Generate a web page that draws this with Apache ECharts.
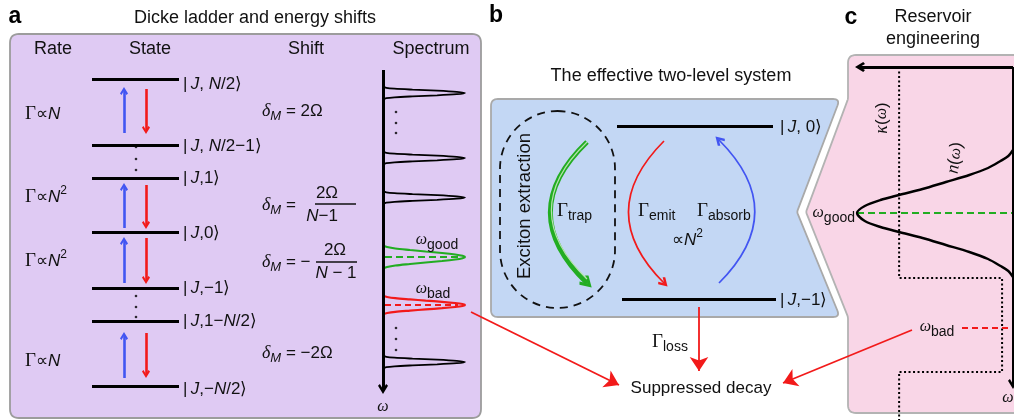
<!DOCTYPE html>
<html><head><meta charset="utf-8"><title>Dicke ladder, effective two-level system, reservoir engineering</title>
<script src="https://cdn.jsdelivr.net/npm/echarts@6.0.0/dist/echarts.min.js"></script>
<style>html,body{margin:0;padding:0;background:#ffffff;}#chart{width:1014px;height:420px;}</style>
</head><body><div id="chart"></div><script>
// ================= DATA (figure units = px) =================
// Panel a – Dicke ladder
const columnHeaders = ['Rate', 'State', 'Shift', 'Spectrum'];
const headerX = [53, 150, 306, 431];
const levelLabels = [
  '{n||\u2009}{i|J}{n|, }{i|N}{n|/2⟩}',
  '{n||\u2009}{i|J}{n|, }{i|N}{n|/2−1⟩}',
  '{n||\u2009}{i|J}{n|,1⟩}',
  '{n||\u2009}{i|J}{n|,0⟩}',
  '{n||\u2009}{i|J}{n|,−1⟩}',
  '{n||\u2009}{i|J}{n|,1−}{i|N}{n|/2⟩}',
  '{n||\u2009}{i|J}{n|,−}{i|N}{n|/2⟩}'
];
const levelY = [79, 145, 178, 232.5, 288, 321, 386];
const levelLabelY = [84, 146, 178.5, 233.5, 288.5, 321.5, 389];
const ladderSpan = [92, 179];
const rateLabels = ['{g|Γ}{n|∝}{i|N}', '{g|Γ}{n|∝}{i|N}{sp|2}', '{g|Γ}{n|∝}{i|N}{sp|2}', '{g|Γ}{n|∝}{i|N}'];
const rateY = [114, 197, 261, 361];
const absorbArrowsY = [[133, 91], [228, 187], [283, 241], [378, 336]];   // blue, upward
const emitArrowsY = [[89, 130], [185, 225], [238, 280], [333, 374]];     // red, downward
const ladderDotsY = [147, 159, 170, 296, 307, 317];
const shiftLabels = ['{w|δ}{sbi|M}{n| = 2Ω}', '{w|δ}{sbi|M}{n| =}', '{w|δ}{sbi|M}{n| = −}', '{w|δ}{sbi|M}{n| = −2Ω}'];
const shiftY = [111, 205, 262, 353];
const fractionNumerators = ['{n|2Ω}', '{n|2Ω}'];
const fractionDenominators = ['{i|N}{n|−1}', '{i|N}{n| − 1}'];
const fractionNumPos = [[327, 193], [335, 250]];
const fractionDenPos = [[322, 216], [336, 273]];
const fractionBars = [[315, 356, 204], [316, 357, 262]];
// spectrum: peak frequency position, relative linewidth, profile kind
const spectrumPeakY = [93, 158, 197.5, 257, 305, 362];
const spectrumPeakWidth = [1, 1, 1, 1, 0.8, 1];
const spectrumPeakKind = ['narrow', 'narrow', 'narrow', 'good', 'bad', 'narrow'];
// peak shape: [offset along ω, relative intensity]
const narrowProfile = [[-6.5,0],[-5.2,0.04],[-4.3,0.14],[-3.4,0.36],[-2.4,0.66],[-1.2,0.9],[0,1],[1.2,0.9],[2.4,0.66],[3.4,0.36],[4.3,0.14],[5.2,0.04],[6.5,0]];
const broadProfile = [[-11.5,0],[-10,0.05],[-8.5,0.15],[-7,0.33],[-5.5,0.52],[-4,0.72],[-2.5,0.88],[-1.2,0.97],[0,1],[1.2,0.97],[2.5,0.88],[4,0.72],[5.5,0.52],[7,0.33],[8.5,0.15],[10,0.05],[11.5,0]];
const spectrumDotsY = [112, 123, 133, 328, 339, 350];
const omegaGoodY = 257, omegaBadY = 305;

// Panel b – effective two-level system
const twoLevelLabels = ['{n||\u2009}{i|J}{n|, 0⟩}', '{n||\u2009}{i|J}{n|,−1⟩}'];
const twoLevelLines = [[617, 773, 126], [622, 776, 299]];
const rateCurves = { trap: [[587, 283], [587, 142]], emit: [[664, 283], [664, 141]], absorb: [[719, 140], [719, 283]] };

// Panel c – reservoir engineering (n(ω) and κ(ω) in relative units, ω along the figure)
const nOmega = [[0,150],[0.03,156],[0.08,161],[0.16,168],[0.28,175],[0.43,182],[0.58,189],[0.73,195],[0.85,200],[0.95,206],[1,213],[0.95,221],[0.85,227],[0.73,232],[0.58,238],[0.43,245],[0.28,252],[0.16,259],[0.08,266],[0.03,271],[0,277]];
const kappaOmega = [[0.73,67],[0.73,278],[0.07,278],[0.07,372],[0.73,372],[0.73,420]];
const omegaGoodC = 213, omegaBadC = 328;

// ================= STYLE / LAYOUT =================
const FS = '"Liberation Sans", Arial, Helvetica, sans-serif';
const FR = '"Liberation Serif", "DejaVu Serif", "Times New Roman", serif';
const INK = '#111111', RED = '#f21a1a', BLUE = '#4255f2', GREEN = '#22ad22';
const rich = {
  n:   {fontFamily: FS, fontSize: 17, lineHeight: 24, fill: INK},
  nl:  {fontFamily: FS, fontSize: 18.5, lineHeight: 24, fill: INK},
  i:   {fontFamily: FS, fontSize: 17, fontStyle: 'italic', lineHeight: 24, fill: INK},
  g:   {fontFamily: FR, fontSize: 19, lineHeight: 24, fill: INK},
  w:   {fontFamily: FR, fontSize: 18, fontStyle: 'italic', lineHeight: 24, fill: INK},
  ws:  {fontFamily: FR, fontSize: 16, fontStyle: 'italic', lineHeight: 24, fill: INK},
  sb:  {fontFamily: FS, fontSize: 14, lineHeight: 14, verticalAlign: 'bottom', fill: INK},
  sbi: {fontFamily: FS, fontSize: 13, fontStyle: 'italic', lineHeight: 14, verticalAlign: 'bottom', fill: INK},
  sp:  {fontFamily: FS, fontSize: 12, lineHeight: 12, verticalAlign: 'top', fill: INK},
  t:   {fontFamily: FS, fontSize: 18, lineHeight: 24, fill: INK},
  pl:  {fontFamily: FS, fontSize: 23, fontWeight: 'bold', lineHeight: 26, fill: '#000'}
};
const chevron = 'path://M5,0 L10,6.6 L8.1,8 L5,3.8 L1.9,8 L0,6.6 Z';

const texts = [];
function T(s, x, y, a, rot) { texts.push({s: s, x: x, y: y, a: a || 'left', rot: rot || 0}); }
T('{pl|a}', 15, 17, 'center'); T('{pl|b}', 496, 16, 'center'); T('{pl|c}', 851, 18, 'center');
T('{t|Dicke ladder and energy shifts}', 255, 18, 'center');
T('{t|The effective two-level system}', 671, 76, 'center');
T('{t|Reservoir}', 933, 17, 'center'); T('{t|engineering}', 933, 39, 'center');
columnHeaders.forEach((h, k) => T('{t|' + h + '}', headerX[k], 49, 'center'));
levelLabels.forEach((s, k) => T(s, 183, levelLabelY[k]));
rateLabels.forEach((s, k) => T(s, 25, rateY[k]));
shiftLabels.forEach((s, k) => T(s, 262, shiftY[k]));
fractionNumerators.forEach((s, k) => T(s, fractionNumPos[k][0], fractionNumPos[k][1], 'center'));
fractionDenominators.forEach((s, k) => T(s, fractionDenPos[k][0], fractionDenPos[k][1], 'center'));
T('{ws|ω}{sb|good}', 437, 240, 'center');
T('{ws|ω}{sb|bad}', 433, 289, 'center');
T('{ws|ω}', 383, 407, 'center');
// panel b
T('{nl|Exciton extraction}', 525, 206, 'center', 90);
T('{g|Γ}{sb|trap}', 557, 211);
T('{g|Γ}{sb|emit}', 638, 211);
T('{g|Γ}{sb|absorb}', 697, 211);
T('{n|∝}{i|N}{sp|2}', 672, 240);
T('{g|Γ}{sb|loss}', 652, 342);
T('{n|Suppressed decay}', 701, 388, 'center');
twoLevelLabels.forEach((s, k) => T(s, 780, twoLevelLines[k][2] + 1));
// panel c
T('{w|κ}{n|(}{ws|ω}{n|)}', 882, 118, 'center', 90);
T('{w|n}{n|(}{ws|ω}{n|)}', 955, 158, 'center', 82);
T('{ws|ω}{sb|good}', 855, 213, 'right');
T('{ws|ω}{sb|bad}', 937, 327, 'center');
T('{ws|ω}', 1008, 398, 'center');

// background boxes (vertices, corner radii)
const boxes = [
  {pts: [[10,34],[481,34],[481,418],[10,418]], r: [9,9,9,9], fill: '#dfcaf3', stroke: '#9c9c9c'},
  {pts: [[491,99],[840,99],[797,212],[840,317],[491,317]], r: [7,7,2,7,7], fill: '#c3d7f4', stroke: '#a9a9a9'},
  {pts: [[848,55],[1040,55],[1040,413],[848,413],[848,317],[806,212],[848,99]], r: [8,0,0,8,2,2,2], fill: '#f9d6e7', stroke: '#b3b3b3'}
];
function roundPts(pts, r) {
  const out = [], n = pts.length;
  for (let k = 0; k < n; k++) {
    const p = pts[k], a = pts[(k - 1 + n) % n], b = pts[(k + 1) % n], rr = r[k];
    if (!rr) { out.push(p); continue; }
    const d1 = [a[0]-p[0], a[1]-p[1]], d2 = [b[0]-p[0], b[1]-p[1]];
    const l1 = Math.hypot(d1[0], d1[1]), l2 = Math.hypot(d2[0], d2[1]);
    const s = [p[0]+d1[0]/l1*rr, p[1]+d1[1]/l1*rr], e = [p[0]+d2[0]/l2*rr, p[1]+d2[1]/l2*rr];
    for (let q = 0; q <= 8; q++) { const t = q/8, u = 1-t;
      out.push([u*u*s[0]+2*u*t*p[0]+t*t*e[0], u*u*s[1]+2*u*t*p[1]+t*t*e[1]]); }
  }
  return out;
}

// ================= SERIES =================
const series = [];
series.push({
  type: 'custom', coordinateSystem: 'cartesian2d', xAxisIndex: 0, yAxisIndex: 0, z: 0, silent: true,
  data: boxes.map((b, k) => [k, 0]),
  renderItem: function (params, api) {
    const b = boxes[params.dataIndex];
    const pp = roundPts(b.pts.map(p => api.coord(p)), b.r);
    return {type: 'polygon', shape: {points: pp}, style: {fill: b.fill, stroke: b.stroke, lineWidth: 1.8}};
  }
});
// dashed stadium around the extraction channel
series.push({
  type: 'custom', coordinateSystem: 'cartesian2d', xAxisIndex: 0, yAxisIndex: 0, z: 1, silent: true,
  data: [[500, 111, 615, 308]],
  renderItem: function (params, api) {
    const p0 = api.coord([api.value(0), api.value(1)]), p1 = api.coord([api.value(2), api.value(3)]);
    const w = p1[0]-p0[0], h = p1[1]-p0[1];
    return {type: 'rect', shape: {x: p0[0], y: p0[1], width: w, height: h, r: w/2},
      style: {fill: 'none', stroke: '#111', lineWidth: 1.8, lineDash: [8, 6]}};
  }
});
function seg(x1, y1, x2, y2) { return {coords: [[x1, y1], [x2, y2]]}; }
// black level lines
series.push({type: 'lines', coordinateSystem: 'cartesian2d', xAxisIndex: 0, yAxisIndex: 0, z: 3, silent: true,
  lineStyle: {color: '#000', width: 3.2, opacity: 1},
  data: levelY.map(y => seg(ladderSpan[0], y, ladderSpan[1], y)).concat(twoLevelLines.map(l => seg(l[0], l[2], l[1], l[2])))});
// fraction bars
series.push({type: 'lines', coordinateSystem: 'cartesian2d', xAxisIndex: 0, yAxisIndex: 0, z: 3, silent: true,
  lineStyle: {color: INK, width: 1.6, opacity: 1},
  data: fractionBars.map(b => seg(b[0], b[2], b[1], b[2]))});
// axes with open arrow heads (spectrum ω axis, panel c axes)
series.push({type: 'lines', coordinateSystem: 'cartesian2d', xAxisIndex: 0, yAxisIndex: 0, z: 4, silent: true,
  symbol: ['none', chevron], symbolSize: [13, 10], lineStyle: {color: '#000', width: 3, opacity: 1},
  data: [seg(383, 70, 383, 389), seg(1013, 67, 860, 67), seg(1013, 67, 1013, 384)]});
// ladder transitions
series.push({type: 'lines', coordinateSystem: 'cartesian2d', xAxisIndex: 0, yAxisIndex: 0, z: 3, silent: true,
  symbol: ['none', chevron], symbolSize: [10, 8], lineStyle: {color: BLUE, width: 2.6, opacity: 1},
  data: absorbArrowsY.map(a => seg(124, a[0], 124, a[1]))});
series.push({type: 'lines', coordinateSystem: 'cartesian2d', xAxisIndex: 0, yAxisIndex: 0, z: 3, silent: true,
  symbol: ['none', chevron], symbolSize: [10, 8], lineStyle: {color: RED, width: 2.6, opacity: 1},
  data: emitArrowsY.map(a => seg(146, a[0], 146, a[1]))});
// dashed markers of ω_good / ω_bad
series.push({type: 'lines', coordinateSystem: 'cartesian2d', xAxisIndex: 0, yAxisIndex: 0, z: 3, silent: true,
  lineStyle: {color: GREEN, width: 2, type: [7, 4], opacity: 1},
  data: [seg(385, omegaGoodY, 462, omegaGoodY), seg(857, omegaGoodC, 1012, omegaGoodC)]});
series.push({type: 'lines', coordinateSystem: 'cartesian2d', xAxisIndex: 0, yAxisIndex: 0, z: 3, silent: true,
  lineStyle: {color: RED, width: 2, type: [6, 4], opacity: 1},
  data: [seg(385, omegaBadY, 458, omegaBadY), seg(962, omegaBadC, 1012, omegaBadC)]});
// suppressed decay arrows
series.push({type: 'lines', coordinateSystem: 'cartesian2d', xAxisIndex: 0, yAxisIndex: 0, z: 3, silent: true,
  symbol: ['none', 'arrow'], symbolSize: [11, 14], lineStyle: {color: RED, width: 1.8, opacity: 1},
  data: [seg(471, 312, 619, 385), seg(912, 330, 783, 383), seg(699, 307, 699, 371)]});
// curved rate arrows (tip at start point)
series.push({type: 'lines', coordinateSystem: 'cartesian2d', xAxisIndex: 0, yAxisIndex: 0, z: 3, silent: true,
  symbol: [chevron, 'none'], symbolSize: [13, 10], lineStyle: {color: GREEN, width: 5, curveness: 0.52, opacity: 1},
  data: [{coords: rateCurves.trap}]});
series.push({type: 'lines', coordinateSystem: 'cartesian2d', xAxisIndex: 0, yAxisIndex: 0, z: 3, silent: true,
  lineStyle: {color: '#b6e2ae', width: 1.2, curveness: 0.52, opacity: 1},
  data: [{coords: [[587, 279], [587, 142]]}]});
series.push({type: 'lines', coordinateSystem: 'cartesian2d', xAxisIndex: 0, yAxisIndex: 0, z: 3, silent: true,
  symbol: [chevron, 'none'], symbolSize: [10, 8], lineStyle: {color: RED, width: 1.7, curveness: 0.5, opacity: 1},
  data: [{coords: rateCurves.emit}]});
series.push({type: 'lines', coordinateSystem: 'cartesian2d', xAxisIndex: 0, yAxisIndex: 0, z: 3, silent: true,
  symbol: [chevron, 'none'], symbolSize: [10, 8], lineStyle: {color: BLUE, width: 1.7, curveness: 0.5, opacity: 1},
  data: [{coords: rateCurves.absorb}]});
// dots
series.push({type: 'scatter', xAxisIndex: 0, yAxisIndex: 0, z: 3, silent: true, symbolSize: 2.6,
  itemStyle: {color: '#000'},
  data: ladderDotsY.map(y => [136, y]).concat(spectrumDotsY.map(y => [396, y]))});
// spectrum peaks
const peakColor = {narrow: '#000', good: GREEN, bad: RED};
spectrumPeakY.forEach((c, k) => {
  const kind = spectrumPeakKind[k];
  const prof = kind === 'narrow' ? narrowProfile : broadProfile;
  series.push({type: 'line', xAxisIndex: 1, yAxisIndex: 1, z: 3, silent: true, showSymbol: false, symbol: 'none',
    smooth: 0.3, clip: false, lineStyle: {color: peakColor[kind], width: kind === 'narrow' ? 1.8 : 2.2},
    data: prof.map(p => [p[1], c + p[0] * spectrumPeakWidth[k]])});
});
// panel c curves
series.push({type: 'line', xAxisIndex: 2, yAxisIndex: 2, z: 3, silent: true, symbol: 'none', smooth: 0.3, clip: false,
  lineStyle: {color: '#000', width: 2.4}, data: nOmega});
series.push({type: 'line', xAxisIndex: 2, yAxisIndex: 2, z: 2, silent: true, symbol: 'none', clip: false,
  lineStyle: {color: '#000', width: 2, type: [2, 2.5]}, data: kappaOmega});
// texts
series.push({
  type: 'custom', coordinateSystem: 'cartesian2d', xAxisIndex: 0, yAxisIndex: 0, z: 6, silent: true,
  data: texts.map(t => [t.x, t.y]),
  renderItem: function (params, api) {
    const t = texts[params.dataIndex];
    const p = api.coord([api.value(0), api.value(1)]);
    return {type: 'text', x: p[0], y: p[1], rotation: t.rot * Math.PI / 180,
      style: {text: t.s, rich: rich, align: t.a, verticalAlign: 'middle', fill: INK, fontFamily: FS, fontSize: 17}};
  }
});

const yAx = i => ({gridIndex: i, type: 'value', min: 0, max: 420, inverse: true, show: false});
const option = {
  animation: false,
  backgroundColor: '#ffffff',
  grid: [
    {left: 0, top: 0, width: 1014, height: 420},
    {left: 383, top: 0, width: 82, height: 420},
    {left: 857, top: 0, width: 156, height: 420}
  ],
  xAxis: [
    {gridIndex: 0, type: 'value', min: 0, max: 1014, show: false},
    {gridIndex: 1, type: 'value', min: 0, max: 1, show: false},
    {gridIndex: 2, type: 'value', min: 0, max: 1, inverse: true, show: false}
  ],
  yAxis: [yAx(0), yAx(1), yAx(2)],
  series: series
};
const chart = echarts.init(document.getElementById('chart'), null, {renderer: 'canvas'});
chart.setOption(option);
</script></body></html>
